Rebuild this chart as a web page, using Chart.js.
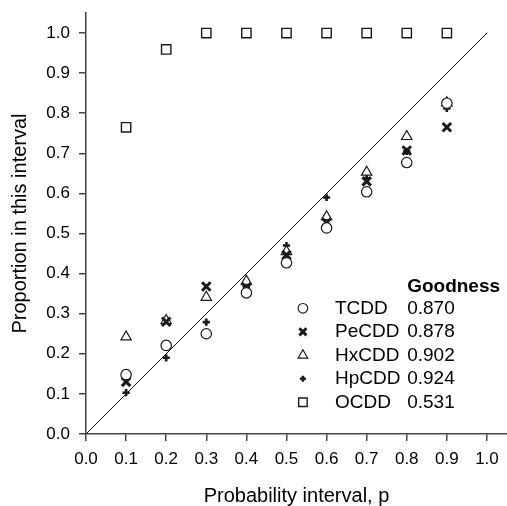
<!DOCTYPE html>
<html>
<head>
<meta charset="utf-8">
<script src="https://cdn.jsdelivr.net/npm/chart.js@4/dist/chart.umd.min.js"></script>
<style>
  html, body { margin: 0; padding: 0; background: #fff; }
  #wrap { width: 507px; height: 506px; }
</style>
</head>
<body>
<div id="wrap"><canvas id="c" width="507" height="506"></canvas></div>
<script>
// ---- data ----
const intervals = [0.1, 0.2, 0.3, 0.4, 0.5, 0.6, 0.7, 0.8, 0.9];
const tcdd  = [0.148, 0.221, 0.250, 0.352, 0.427, 0.514, 0.604, 0.677, 0.825];
const pecdd = [0.130, 0.280, 0.368, 0.365, 0.446, 0.527, 0.630, 0.707, 0.765];
const hxcdd = [0.242, 0.283, 0.341, 0.381, 0.455, 0.542, 0.653, 0.742, 0.826];
const hpcdd = [0.103, 0.190, 0.279, 0.367, 0.470, 0.590, 0.638, 0.705, 0.812];
const ocdd  = [0.765, 0.959, 1.000, 1.000, 1.000, 1.000, 1.000, 1.000, 1.000];
const identityLine = [0, 1];
const seriesNames = ['TCDD', 'PeCDD', 'HxCDD', 'HpCDD', 'OCDD'];
const goodness = ['0.870', '0.878', '0.902', '0.924', '0.531'];
const goodnessTitle = 'Goodness';
const xTicks = [0.0, 0.1, 0.2, 0.3, 0.4, 0.5, 0.6, 0.7, 0.8, 0.9, 1.0];
const yTicks = [0.0, 0.1, 0.2, 0.3, 0.4, 0.5, 0.6, 0.7, 0.8, 0.9, 1.0];
const xTitle = 'Probability interval, p';
const yTitle = 'Proportion in this interval';

// ---- styling ----
const FONT = "'Liberation Sans', Arial, Helvetica, sans-serif";
const INK = '#1a1a1a';
const AXIS = '#444';

const pts = arr => intervals.map((x, i) => ({ x: x, y: arr[i] }));

const markerStyles = [
  { pointStyle: 'circle',   pointRadius: 5.2, borderWidth: 1.2, backgroundColor: '#fff' },
  { pointStyle: 'crossRot', pointRadius: 6,   borderWidth: 3,   backgroundColor: INK },
  { pointStyle: 'triangle', pointRadius: 6,   borderWidth: 1.2, backgroundColor: '#fff' },
  { pointStyle: 'cross',    pointRadius: 3.6, borderWidth: 2.6, backgroundColor: INK },
  { pointStyle: 'rect',     pointRadius: 6.6, borderWidth: 1.4, backgroundColor: '#fff' }
];
const seriesData = [tcdd, pecdd, hxcdd, hpcdd, ocdd];

const datasets = seriesData.map((arr, i) => ({
  type: 'scatter',
  label: seriesNames[i],
  data: pts(arr),
  pointStyle: markerStyles[i].pointStyle,
  pointRadius: markerStyles[i].pointRadius,
  pointHoverRadius: markerStyles[i].pointRadius,
  pointBorderWidth: markerStyles[i].borderWidth,
  borderColor: INK,
  pointBorderColor: INK,
  pointBackgroundColor: markerStyles[i].backgroundColor,
  backgroundColor: markerStyles[i].backgroundColor,
  clip: false
}));

datasets.push({
  type: 'line',
  label: 'identity',
  data: identityLine.map(v => ({ x: v, y: v })),
  borderColor: '#111',
  borderWidth: 1,
  pointRadius: 0,
  fill: false,
  tension: 0
});

// custom two-column legend drawn inside the plot
const goodnessLegend = {
  id: 'goodnessLegend',
  afterDatasetsDraw(chart) {
    const ctx = chart.ctx;
    const xs = chart.scales.x, ys = chart.scales.y;
    const markerX = xs.getPixelForValue(0.541);
    const nameX = xs.getPixelForValue(0.621);
    const valX = xs.getPixelForValue(0.801);
    const rowY0 = ys.getPixelForValue(0.3135);
    const rowStep = 23.5;
    ctx.save();
    ctx.fillStyle = '#000';
    ctx.textBaseline = 'middle';
    ctx.textAlign = 'left';
    ctx.font = "bold 19px " + FONT;
    ctx.fillText(goodnessTitle, valX, rowY0 - 21.5);
    ctx.font = "19px " + FONT;
    for (let i = 0; i < seriesNames.length; i++) {
      const y = rowY0 + i * rowStep;
      const m = markerStyles[i];
      ctx.save();
      ctx.strokeStyle = INK;
      ctx.fillStyle = m.backgroundColor;
      ctx.lineWidth = m.borderWidth;
      const r = m.pointStyle === 'crossRot' ? 5 : m.pointStyle === 'cross' ? 3 : m.pointStyle === 'rect' ? 6 : m.pointStyle === 'triangle' ? 5.5 : 4.8;
      Chart.helpers.drawPoint(ctx, { pointStyle: m.pointStyle, radius: r, rotation: 0, borderWidth: m.borderWidth }, markerX, y);
      ctx.restore();
      ctx.fillStyle = '#000';
      ctx.fillText(seriesNames[i], nameX, y);
      ctx.fillText(goodness[i], valX, y);
    }
    ctx.restore();
  }
};

const axisCommon = {
  type: 'linear',
  min: 0,
  max: 1.05,
  grid: { drawOnChartArea: false, drawTicks: true, tickLength: 7, color: AXIS, lineWidth: 1.5 },
  border: { display: true, color: AXIS, width: 1.5 }
};

new Chart(document.getElementById('c'), {
  type: 'scatter',
  data: { datasets: datasets },
  plugins: [goodnessLegend],
  options: {
    responsive: false,
    animation: false,
    events: [],
    layout: { autoPadding: false, padding: { top: 13, right: 0, left: 0, bottom: 0 } },
    plugins: { legend: { display: false }, tooltip: { enabled: false } },
    scales: {
      x: Object.assign({}, axisCommon, {
        position: 'bottom',
        afterBuildTicks: s => { s.ticks = xTicks.map(v => ({ value: v })); },
        afterFit: s => { s.height = 72; s.paddingLeft = 0; s.paddingRight = 0; },
        ticks: { color: '#000', padding: 8, font: { family: FONT, size: 17 }, maxRotation: 0, autoSkip: false,
                 callback: v => Number(v).toFixed(1) },
        title: { display: true, text: xTitle, color: '#000', padding: { top: 0, bottom: -2 }, font: { family: FONT, size: 20 } }
      }),
      y: Object.assign({}, axisCommon, {
        position: 'left',
        afterBuildTicks: s => { s.ticks = yTicks.map(v => ({ value: v })); },
        afterFit: s => { s.width = 86; s.paddingTop = 0; s.paddingBottom = 0; },
        ticks: { color: '#000', padding: 9, font: { family: FONT, size: 17 }, autoSkip: false,
                 callback: v => Number(v).toFixed(1) },
        title: { display: true, text: yTitle, color: '#000', padding: { top: 8, bottom: 0 }, font: { family: FONT, size: 20 } }
      })
    }
  }
});
</script>
</body>
</html>
